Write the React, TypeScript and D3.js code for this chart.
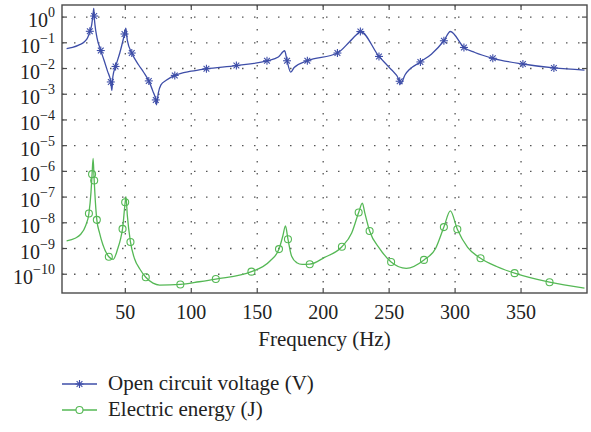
import React from 'react';
import * as d3 from 'd3';

const xTicks = [50, 100, 150, 200, 250, 300, 350];
const yExponents = [0, -1, -2, -3, -4, -5, -6, -7, -8, -9, -10];

const voltageFreq = [5.5, 10, 15, 19, 21.5, 23.1, 24.5, 25.5, 26.1, 26.4, 27, 28.5, 31.4, 34, 36.5, 39, 39.8, 40.6, 42.6, 45.8, 48, 49.4, 50.4, 51.5, 54.9, 60, 64, 67.8, 71, 73.1, 73.6, 75, 77, 81, 87.5, 100, 111.5, 134.2, 157.4, 166, 170.8, 172.6, 175.4, 178, 188, 210.8, 220, 225, 228.2, 242.3, 250, 258, 258.7, 262, 273.7, 282, 291.5, 296.4, 306.7, 315, 328.6, 351.4, 374.9, 398.1];
const voltageValue = [5.9e-2, 6.6e-2, 8.3e-2, 1.1e-1, 1.6e-1, 2.8e-1, 5e-1, 1.26, 2.2, 1.1, 5e-1, 1.6e-1, 5e-2, 2e-2, 7.9e-3, 3e-3, 1.4e-3, 5e-3, 1.2e-2, 4e-2, 1.1e-1, 2.2e-1, 3.7e-1, 1.26e-1, 4e-2, 1.4e-2, 7e-3, 3.3e-3, 1.26e-3, 6e-4, 3.9e-4, 1.1e-3, 2.3e-3, 3.5e-3, 5.4e-3, 7.9e-3, 9.8e-3, 1.3e-2, 2e-2, 2.8e-2, 4.9e-2, 2e-2, 7.2e-3, 1.1e-2, 2e-2, 4e-2, 1.1e-1, 2.0e-1, 2.75e-1, 2.95e-2, 1.1e-2, 3.2e-3, 2.5e-3, 5.6e-3, 1.8e-2, 3.6e-2, 1.2e-1, 2.75e-1, 6.6e-2, 4.2e-2, 2.5e-2, 1.5e-2, 1.05e-2, 8.7e-3];
const voltageMarkers = [5, 9, 12, 15, 18, 21, 24, 27, 29, 34, 36, 37, 38, 41, 44, 45, 48, 49, 51, 54, 56, 58, 60, 61, 62];

const energyFreq = [5.5, 12, 16, 20, 22.4, 24, 24.8, 25.6, 26.4, 27.2, 28.4, 30.5, 33, 37.5, 40.8, 44.3, 46.5, 47.9, 49.9, 50.5, 51.5, 53.9, 57, 61, 65.5, 71, 76, 91.7, 106, 118.6, 145.6, 159.5, 166.5, 169.5, 171.4, 173.3, 176.1, 180, 184, 189.8, 201, 214.2, 221.6, 226.9, 229.7, 231.5, 235.2, 242.8, 251.5, 263, 276.4, 285.2, 291.5, 296.4, 301.7, 309.5, 319.3, 331.5, 345.1, 371.6, 398.1];
const energyValue = [2e-9, 2.5e-9, 3.5e-9, 7.9e-9, 2.3e-8, 1.6e-7, 7.8e-7, 3.2e-6, 4.4e-7, 7.9e-8, 1.3e-8, 4e-9, 1.4e-9, 4.8e-10, 3.8e-10, 1e-9, 2.5e-9, 5.8e-9, 6.3e-8, 1.05e-7, 2e-8, 1.8e-9, 4e-10, 1.6e-10, 7.6e-11, 4.5e-11, 3.8e-11, 4e-11, 5.1e-11, 6.5e-11, 1.26e-10, 3.2e-10, 9.5e-10, 3.2e-9, 7.6e-9, 2.3e-9, 5e-10, 2.8e-10, 2.4e-10, 2.45e-10, 4.5e-10, 1.17e-9, 4e-9, 2.5e-8, 5.8e-8, 2.5e-8, 4.8e-9, 1e-9, 3e-10, 1.7e-10, 3.6e-10, 1e-9, 6.8e-9, 2.9e-8, 5.6e-9, 1.1e-9, 4.2e-10, 2e-10, 1.1e-10, 4.9e-11, 2.9e-11];
const energyMarkers = [4, 6, 8, 10, 13, 17, 18, 21, 24, 27, 29, 30, 32, 35, 39, 41, 43, 46, 48, 50, 52, 54, 56, 58, 59];

const seriesNames = ['Open circuit voltage (V)', 'Electric energy (J)'];
const xLabel = 'Frequency (Hz)';

const BLUE = '#3e4ea8';
const GREEN = '#55b855';
const FONT = "'Liberation Serif', 'DejaVu Serif', serif";

function Asterisk({ cx, cy, s, color }: { cx: number; cy: number; s: number; color: string }) {
  const d = s * 0.72;
  return (
    <g stroke={color} strokeWidth={1.1}>
      <line x1={cx - s} y1={cy} x2={cx + s} y2={cy} />
      <line x1={cx} y1={cy - s} x2={cx} y2={cy + s} />
      <line x1={cx - d} y1={cy - d} x2={cx + d} y2={cy + d} />
      <line x1={cx - d} y1={cy + d} x2={cx + d} y2={cy - d} />
    </g>
  );
}

export default function App() {
  const W = 591, H = 432;
  const L = 62, R = 587, T = 5, B = 293;
  const x = d3.scaleLinear().domain([2, 400]).range([L, R]);
  const y = d3.scaleLog().domain([Math.pow(10, -10.73), Math.pow(10, 0.47)]).range([B, T]);

  const line = d3.line<[number, number]>()
    .x(d => x(d[0]))
    .y(d => y(d[1]))
    .curve(d3.curveMonotoneX);

  const vPts: [number, number][] = voltageFreq.map((f, i) => [f, voltageValue[i]]);
  const ePts: [number, number][] = energyFreq.map((f, i) => [f, energyValue[i]]);

  const axisColor = '#4a4a4a';
  const gridColor = '#555';

  return (
    <svg width={W} height={H} style={{ position: 'absolute', left: 0, top: 0, background: '#fff' }} fontFamily={FONT}>
      <rect x={0} y={0} width={W} height={H} fill="#fff" />
      {/* grid */}
      {yExponents.map(e => (
        <line key={'gy' + e} x1={L} x2={R} y1={y(Math.pow(10, e))} y2={y(Math.pow(10, e))}
          stroke={gridColor} strokeWidth={1.3} strokeDasharray="1.5,10.5" />
      ))}
      {xTicks.map(t => (
        <line key={'gx' + t} x1={x(t)} x2={x(t)} y1={T} y2={B}
          stroke={gridColor} strokeWidth={1.3} strokeDasharray="1.5,10.5" />
      ))}
      {/* curves */}
      <path d={line(vPts) || ''} fill="none" stroke={BLUE} strokeWidth={1.3} />
      <path d={line(ePts) || ''} fill="none" stroke={GREEN} strokeWidth={1.3} />
      {voltageMarkers.map(i => (
        <Asterisk key={'vm' + i} cx={x(voltageFreq[i])} cy={y(voltageValue[i])} s={4} color={BLUE} />
      ))}
      {energyMarkers.map(i => (
        <circle key={'em' + i} cx={x(energyFreq[i])} cy={y(energyValue[i])} r={3.5}
          fill="none" stroke={GREEN} strokeWidth={1.1} />
      ))}
      {/* axes box */}
      <rect x={L} y={T} width={R - L} height={B - T} fill="none" stroke={axisColor} strokeWidth={1.4} />
      {yExponents.map(e => (
        <g key={'ty' + e} stroke={axisColor} strokeWidth={1.2}>
          <line x1={L} x2={L + 5} y1={y(Math.pow(10, e))} y2={y(Math.pow(10, e))} />
          <line x1={R} x2={R - 5} y1={y(Math.pow(10, e))} y2={y(Math.pow(10, e))} />
        </g>
      ))}
      {xTicks.map(t => (
        <g key={'tx' + t} stroke={axisColor} strokeWidth={1.2}>
          <line x1={x(t)} x2={x(t)} y1={B} y2={B - 5} />
          <line x1={x(t)} x2={x(t)} y1={T} y2={T + 5} />
        </g>
      ))}
      {/* tick labels */}
      {yExponents.map(e => (
        <text key={'ly' + e} x={55} y={y(Math.pow(10, e)) + 10} textAnchor="end" fontSize={20} fill="#222">
          10<tspan fontSize={14} dy={-10}>{e < 0 ? '\u2212' + Math.abs(e) : String(e)}</tspan>
        </text>
      ))}
      {xTicks.map(t => (
        <text key={'lx' + t} x={x(t)} y={319} textAnchor="middle" fontSize={20} fill="#222">{t}</text>
      ))}
      <text x={(L + R) / 2} y={346} textAnchor="middle" fontSize={21} fill="#222">{xLabel}</text>
      {/* legend */}
      <line x1={62} x2={97} y1={384} y2={384} stroke={BLUE} strokeWidth={1.3} />
      <Asterisk cx={79.5} cy={384} s={4} color={BLUE} />
      <text x={108} y={390} fontSize={21} fill="#222">{seriesNames[0]}</text>
      <line x1={62} x2={97} y1={410} y2={410} stroke={GREEN} strokeWidth={1.3} />
      <circle cx={79.5} cy={410} r={3.5} fill="#fff" stroke={GREEN} strokeWidth={1.1} />
      <text x={108} y={416} fontSize={21} fill="#222">{seriesNames[1]}</text>
    </svg>
  );
}
